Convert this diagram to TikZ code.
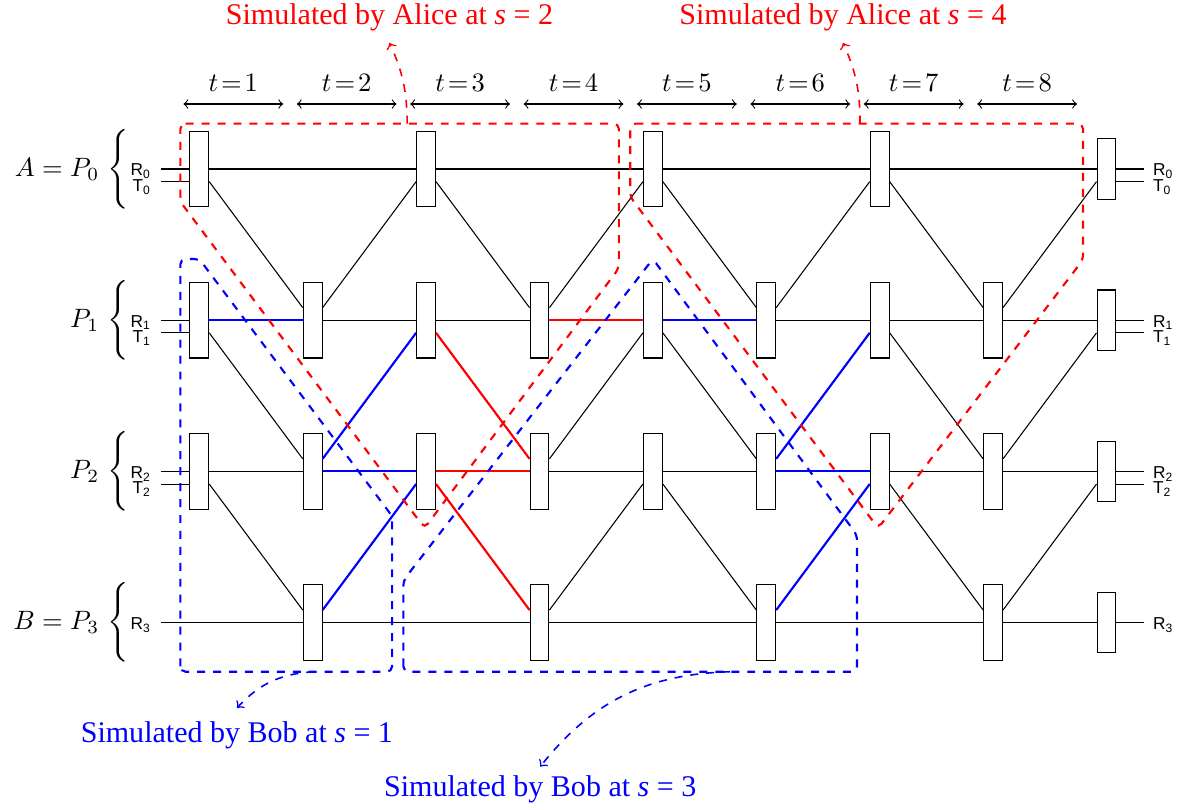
\documentclass[tikz,border=0pt]{standalone}
\usepackage[no-math]{fontspec}
\setmainfont{Liberation Serif}
\setsansfont{Liberation Sans}
\usepackage{tikz}
\usetikzlibrary{arrows,positioning,calc}

\tikzset{
  gate/.style={draw, fill=white, minimum width=0.25cm, minimum height=1cm, inner sep=0pt},
  lastgate/.style={gate, minimum height=0.8cm},
  alicewire/.style={red, thick},
  bobwire/.style={blue, thick},
  alicezone/.style={red, thick, dashed, rounded corners=2pt},
  bobzone/.style={blue, thick, dashed, rounded corners=2pt},
  note/.style={font=\fontsize{11.3}{13}\selectfont},
  reg/.style={font=\fontsize{6.5}{7}\sffamily, inner sep=1pt},
}

\begin{document}
\begin{tikzpicture}
  \useasboundingbox (-2.636,-8.466) rectangle (13.065,2.236);

  % register lines
  \foreach \r in {0,...,3} {
    \coordinate (in\r) at (-0.5,-2*\r);
    \coordinate (out\r) at (12.5,-2*\r);
    \draw (in\r) -- (out\r);
  }

  % gates
  \foreach \c in {1,3,5,7}
    \foreach \r in {0,1,2}
      \node[gate] (g\r-\c) at ({1.5*(\c-1)},-2*\r) {};
  \foreach \c in {2,4,6,8}
    \foreach \r in {1,2,3}
      \node[gate] (g\r-\c) at ({1.5*(\c-1)},-2*\r) {};
  \foreach \r in {0,...,3}
    \node[lastgate] (g\r-9) at (12,-2*\r) {};

  \foreach \r in {0,1,2} {
    \draw ($(in\r)+(0,-0.167)$) -- ($(g\r-1.west)+(0,-0.167)$);
    \draw ($(g\r-9.east)+(0,-0.167)$) -- ($(out\r)+(0,-0.167)$);
  }

  % messages
  \foreach \c/\n in {1/2,3/4,5/6,7/8}
    \foreach \r/\s in {0/1,1/2,2/3}
      \draw ($(g\r-\c.east)+(0,-0.167)$) -- ($(g\s-\n.west)+(0,0.167)$);
  \foreach \c/\n in {2/3,4/5,6/7,8/9}
    \foreach \r/\s in {1/0,2/1,3/2}
      \draw ($(g\r-\c.east)+(0,0.167)$) -- ($(g\s-\n.west)+(0,-0.167)$);

  \draw[bobwire] (g1-1.east) -- (g1-2.west);
  \draw[bobwire] (g2-2.east) -- (g2-3.west);
  \draw[bobwire] ($(g2-2.east)+(0,0.167)$) -- ($(g1-3.west)+(0,-0.167)$);
  \draw[bobwire] ($(g3-2.east)+(0,0.167)$) -- ($(g2-3.west)+(0,-0.167)$);
  \draw[alicewire] (g2-3.east) -- (g2-4.west);
  \draw[alicewire] ($(g1-3.east)+(0,-0.167)$) -- ($(g2-4.west)+(0,0.167)$);
  \draw[alicewire] ($(g2-3.east)+(0,-0.167)$) -- ($(g3-4.west)+(0,0.167)$);
  \draw[alicewire] (g1-4.east) -- (g1-5.west);
  \draw[bobwire] (g1-5.east) -- (g1-6.west);
  \draw[bobwire] (g2-6.east) -- (g2-7.west);
  \draw[bobwire] ($(g2-6.east)+(0,0.167)$) -- ($(g1-7.west)+(0,-0.167)$);
  \draw[bobwire] ($(g3-6.east)+(0,0.167)$) -- ($(g2-7.west)+(0,-0.167)$);

  % parties
  \foreach \r/\name in {0/A=P_0,1/P_1,2/P_2,3/B=P_3} {
    \node[anchor=east] (lab\r) at (-1.2,-2*\r) {$\name$};
    \node[inner sep=0pt] (br\r) at (-1.055,-2*\r)
      {$\delimiterfactor=1000\delimitershortfall=0pt\left\{\vcenter{\hbox{\vrule height 1cm width 0pt}}\right.$};
    \node[reg, anchor=east] (rl\r) at (-0.595,-2*\r-0.03) {R\textsubscript{\r}};
    \node[reg, anchor=west] (rr\r) at (12.575,-2*\r-0.03) {R\textsubscript{\r}};
  }
  \foreach \r in {0,1,2} {
    \node[reg, anchor=east] (tl\r) at (-0.595,-2*\r-0.235) {T\textsubscript{\r}};
    \node[reg, anchor=west] (tr\r) at (12.575,-2*\r-0.235) {T\textsubscript{\r}};
  }

  % time steps
  \foreach \t in {1,...,8} {
    \coordinate (ts\t) at ({1.5*(\t-1)-0.21},0.86);
    \coordinate (te\t) at ({1.5*(\t-1)+1.11},0.86);
    \draw[<->] (ts\t) -- (te\t) node[midway, above=1.3pt] {$t\!=\!\t$};
  }

  % simulated parts
  \draw[alicezone] (-0.25,0.6) -- (5.55,0.6) -- (5.55,-1.313) -- (2.98,-4.75) -- (-0.25,-0.433) -- cycle;
  \draw[alicezone] (5.7,0.6) -- (11.69,0.6) -- (11.69,-1.2) -- (8.98,-4.75) -- (5.7,-0.367) -- cycle;
  \draw[bobzone] (-0.25,-6.65) -- (-0.25,-1.19) -- (0,-1.19) -- (2.55,-4.59) -- (2.55,-6.65) -- cycle;
  \draw[bobzone] (2.7,-6.65) -- (2.7,-5.44) -- (6,-1.19) -- (8.7,-4.84) -- (8.7,-6.65) -- cycle;

  \node[note, red] (alice2) at (2.516,2.01) {Simulated by Alice at \textit{s} = 2};
  \node[note, red] (alice4) at (8.515,2.01) {Simulated by Alice at \textit{s} = 4};
  \node[note, blue] (bob1) at (0.498,-7.487) {Simulated by Bob at \textit{s} = 1};
  \node[note, blue] (bob3) at (4.51,-8.21) {Simulated by Bob at \textit{s} = 3};

  \coordinate (a2) at (2.75,0.6);
  \coordinate (a4) at (8.74,0.6);
  \coordinate (b1) at (1.52,-6.65);
  \coordinate (b3) at (7.02,-6.65);
  \draw[red, semithick, dashed, ->] (a2) to[bend right=12] ([yshift=-1pt]alice2.south);
  \draw[red, semithick, dashed, ->] (a4) to[bend right=12] ([yshift=-1pt]alice4.south);
  \draw[blue, semithick, dashed, ->] (b1) to[bend right=22] ([yshift=1.5pt]bob1.north);
  \draw[blue, semithick, dashed, ->] (b3) to[bend right=25] (bob3.north);
\end{tikzpicture}
\end{document}
